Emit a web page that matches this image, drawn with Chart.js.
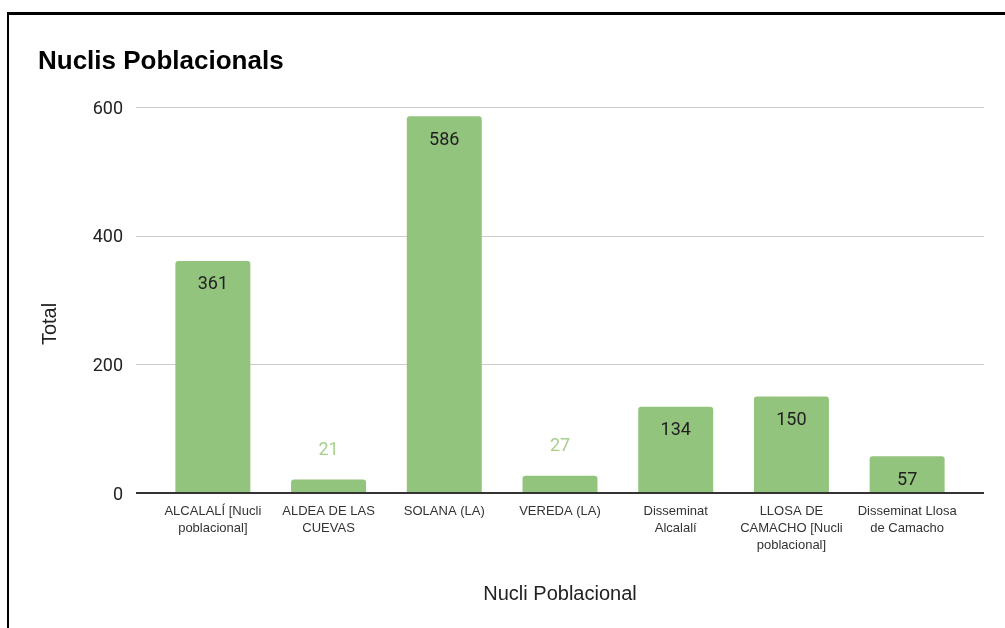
<!DOCTYPE html>
<html>
<head>
<meta charset="utf-8">
<title>Nuclis Poblacionals</title>
<script src="https://cdn.jsdelivr.net/npm/chart.js@4.4.1/dist/chart.umd.min.js"></script>
<style>
  html, body { margin: 0; padding: 0; background: #fff; }
  #wrap { position: relative; width: 1005px; height: 628px; overflow: hidden; }
  #frame {
    position: absolute; left: 7px; top: 12px; right: -10px; bottom: -10px;
    border-left: 2px solid #000; border-top: 3px solid #000;
  }
  #chart { position: absolute; left: 0; top: 0; }
</style>
</head>
<body>
<div id="wrap">
  <div id="frame"></div>
  <canvas id="chart" width="1005" height="628"></canvas>
</div>
<script>
// ---- data ----
const categories = [
  ["ALCALALÍ [Nucli", "poblacional]"],
  ["ALDEA DE LAS", "CUEVAS"],
  "SOLANA (LA)",
  "VEREDA (LA)",
  ["Disseminat", "Alcalalí"],
  ["LLOSA DE", "CAMACHO [Nucli", "poblacional]"],
  ["Disseminat Llosa", "de Camacho"],
];
const totals = [361, 21, 586, 27, 134, 150, 57];
const yTicks = [0, 200, 400, 600];

const BAR_GREEN = "#93c47d";
const GRID_EXTRA = 19; // grid runs a bit past the bar bands, like the sheets chart

// horizontal gridlines + baseline, drawn wider than the category bands
const gridPlugin = {
  id: "sheetGrid",
  beforeDatasetsDraw(chart) {
    const { ctx, chartArea, scales } = chart;
    ctx.save();
    ctx.strokeStyle = "#cccccc";
    ctx.lineWidth = 1;
    yTicks.forEach(v => {
      if (v === 0) return;
      const y = Math.round(scales.y.getPixelForValue(v)) + 0.5;
      ctx.beginPath();
      ctx.moveTo(chartArea.left - GRID_EXTRA, y);
      ctx.lineTo(chartArea.right + GRID_EXTRA, y);
      ctx.stroke();
    });
    ctx.restore();
  },
  afterDatasetsDraw(chart) {
    const { ctx, chartArea, scales } = chart;
    ctx.save();
    // baseline
    const y0 = Math.round(scales.y.getPixelForValue(0));
    ctx.strokeStyle = "#333333";
    ctx.lineWidth = 2;
    ctx.beginPath();
    ctx.moveTo(chartArea.left - GRID_EXTRA, y0);
    ctx.lineTo(chartArea.right + GRID_EXTRA, y0);
    ctx.stroke();

    // value labels: inside the bar when it fits, above it otherwise
    const meta = chart.getDatasetMeta(0);
    ctx.font = "18px Roboto";
    ctx.textAlign = "center";
    ctx.textBaseline = "middle";
    meta.data.forEach((bar, i) => {
      const h = bar.base - bar.y;
      if (h > 30) {
        ctx.fillStyle = "#212121";
        ctx.fillText(String(totals[i]), bar.x, bar.y + 24);
      } else {
        ctx.fillStyle = "#a6d08c";
        ctx.fillText(String(totals[i]), bar.x, bar.y - 29);
      }
    });

    // y axis title
    ctx.translate(50, 324);
    ctx.rotate(-Math.PI / 2);
    ctx.font = "20px 'Liberation Sans', Arial, sans-serif";
    ctx.fillStyle = "#222222";
    ctx.fillText("Total", 0, 0);
    ctx.restore();
  },
};

new Chart(document.getElementById("chart"), {
  type: "bar",
  data: {
    labels: categories,
    datasets: [
      {
        label: "Total",
        data: totals,
        backgroundColor: BAR_GREEN,
        borderRadius: { topLeft: 3, topRight: 3 },
        borderSkipped: "bottom",
        barPercentage: 0.648,
        categoryPercentage: 1,
      },
    ],
  },
  options: {
    responsive: false,
    animation: false,
    devicePixelRatio: 1,
    layout: { padding: { left: 38, right: 40, top: 0, bottom: 0 } },
    plugins: {
      legend: { display: false },
      tooltip: { enabled: false },
      title: {
        display: true,
        text: "Nuclis Poblacionals",
        align: "start",
        color: "#000000",
        font: { family: "'Liberation Sans', Arial, sans-serif", size: 26, weight: "bold", lineHeight: 1.2 },
        padding: { top: 46, bottom: 30 },
      },
    },
    scales: {
      x: {
        offset: true,
        grid: { display: false, drawTicks: false },
        border: { display: false },
        ticks: {
          color: "#333333",
          padding: 10,
          maxRotation: 0,
          autoSkip: false,
          font: { family: "'Liberation Sans', Arial, sans-serif", size: 13, lineHeight: 1.3 },
        },
        title: {
          display: true,
          text: "Nucli Poblacional",
          color: "#222222",
          font: { family: "'Liberation Sans', Arial, sans-serif", size: 20, lineHeight: 1.2 },
          padding: { top: 0, bottom: 22 },
        },
        afterFit(scale) { scale.height = 135; },
      },
      y: {
        min: 0,
        max: 600,
        grid: { display: false, drawTicks: false },
        border: { display: false },
        ticks: {
          stepSize: 200,
          padding: 32,
          labelOffset: 2,
          color: "#222222",
          font: { family: "Roboto, sans-serif", size: 18 },
        },
        afterFit(scale) { scale.width = 117; },
      },
    },
  },
  plugins: [gridPlugin],
});
</script>
</body>
</html>
